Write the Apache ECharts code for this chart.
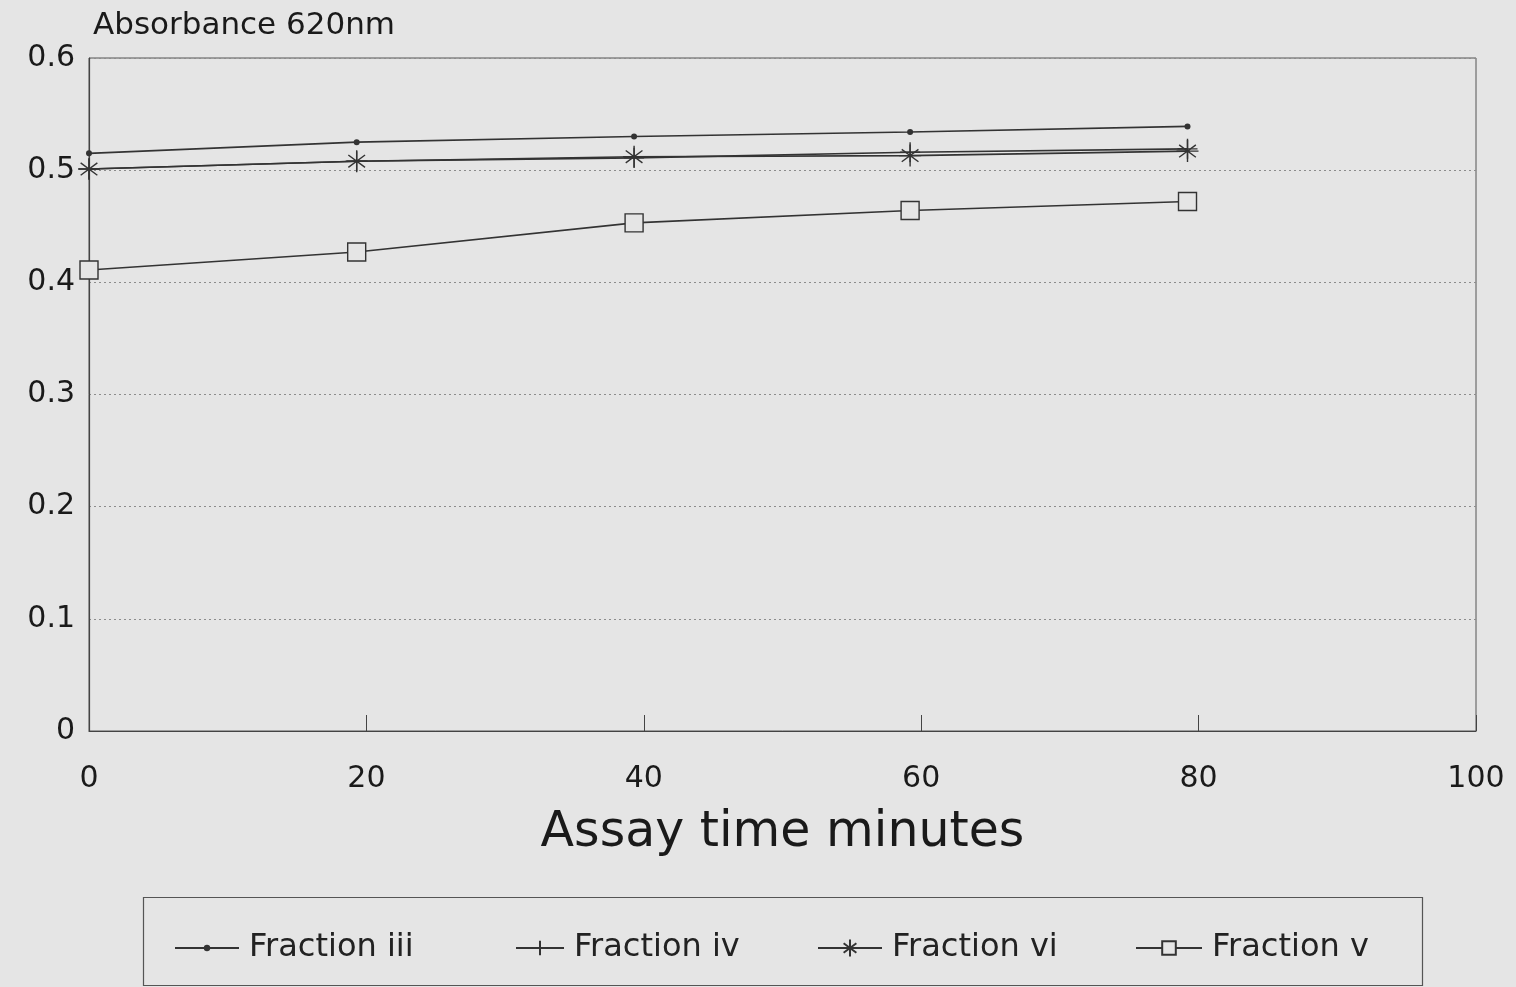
<!DOCTYPE html>
<html>
<head>
<meta charset="utf-8">
<script src="https://cdn.jsdelivr.net/npm/echarts@6/dist/echarts.min.js"></script>
<style>
html,body{margin:0;padding:0;background:#e5e5e5;}
#chart{width:1516px;height:987px;}
</style>
</head>
<body>
<div id="chart"></div>
<script>
// Assay time (minutes) at which each reading was taken
var times = [0, 19.3, 39.3, 59.2, 79.2];
var fractionIII = [0.515, 0.525, 0.530, 0.534, 0.539];
var fractionIV  = [0.501, 0.508, 0.511, 0.516, 0.519];
var fractionVI  = [0.501, 0.508, 0.512, 0.513, 0.517];
var fractionV   = [0.411, 0.427, 0.453, 0.464, 0.472];
var seriesNames = ['Fraction iii', 'Fraction iv', 'Fraction vi', 'Fraction v'];
var xTicks = [0, 20, 40, 60, 80, 100];
var yTicks = [0, 0.1, 0.2, 0.3, 0.4, 0.5, 0.6];

function pairs(vals){ return times.map(function(t,i){ return [t, vals[i]]; }); }

var ink = '#333333';
var bg = '#e5e5e5';
var plusPath = 'path://M5,0 L5,10 M0,5 L10,5';
var starPath = 'path://M5,0 L5,10 M1.2,2.2 L8.8,7.8 M8.8,2.2 L1.2,7.8 M0,5 L10,5';
var squarePath = 'path://M0,0 L10,0 L10,10 L0,10 Z';

var chart = echarts.init(document.getElementById('chart'));
var font = 'DejaVu Sans';

function mkSeries(name, vals, symbol, size, itemStyle){
  return {
    name: name, type: 'line', data: pairs(vals),
    symbol: symbol, symbolSize: size, showSymbol: true,
    lineStyle: {color: ink, width: 1.6},
    itemStyle: itemStyle,
    emphasis: {disabled: true},
    animation: false, z: 3
  };
}

function mkLegend(name, left, iconW, iconH){
  return {
    data: [name], left: left, top: 927, orient: 'horizontal',
    itemWidth: iconW, itemHeight: iconH, itemGap: 0,
    textStyle: {fontFamily: font, fontSize: 32, color: '#222', padding: [0,0,0,5]},
    selectedMode: false
  };
}

chart.setOption({
  backgroundColor: bg,
  animation: false,
  grid: {left: 89, right: 40, top: 58, bottom: 256, show: true, borderColor: '#555', borderWidth: 1, backgroundColor: 'transparent'},
  xAxis: {
    type: 'value', min: xTicks[0], max: xTicks[xTicks.length-1], interval: 20,
    name: 'Assay time minutes', nameLocation: 'middle', nameGap: 78,
    nameTextStyle: {fontFamily: font, fontSize: 49, color: '#1a1a1a'},
    axisLine: {show: true, lineStyle: {color: '#444', width: 1.2}},
    axisTick: {show: true, inside: true, length: 16, lineStyle: {color: '#444'}},
    axisLabel: {fontFamily: font, fontSize: 30, color: '#1a1a1a', margin: 33},
    splitLine: {show: false}
  },
  yAxis: {
    type: 'value', min: yTicks[0], max: yTicks[yTicks.length-1], interval: 0.1,
    name: 'Absorbance 620nm', nameLocation: 'end', nameGap: 32,
    nameTextStyle: {fontFamily: font, fontSize: 31, color: '#1a1a1a', align: 'left', verticalAlign: 'middle', padding: [0,0,0,4]},
    axisLine: {show: true, lineStyle: {color: '#444', width: 1.2}},
    axisTick: {show: false},
    axisLabel: {fontFamily: font, fontSize: 30, color: '#1a1a1a', margin: 14,
      formatter: function(v){ return v === 0 ? '0' : v.toFixed(1); }},
    splitLine: {show: true, lineStyle: {color: '#8c8c8c', type: [2,3], width: 1}}
  },
  legend: [
    mkLegend(seriesNames[0], 169, 64, 8),
    mkLegend(seriesNames[1], 510, 48, 18),
    mkLegend(seriesNames[2], 812, 64, 21),
    mkLegend(seriesNames[3], 1130, 66, 17)
  ],
  graphic: [{
    type: 'rect', left: 141, top: 895, shape: {x: 0, y: 0, width: 1279, height: 88},
    style: {fill: 'none', stroke: '#555', lineWidth: 1.2}, silent: true
  }],
  series: [
    mkSeries(seriesNames[0], fractionIII, 'circle', 6, {color: ink}),
    mkSeries(seriesNames[1], fractionIV, plusPath, 20, {color: ink, borderColor: ink, borderWidth: 1.4}),
    mkSeries(seriesNames[2], fractionVI, starPath, 22, {color: ink, borderColor: ink, borderWidth: 1.4}),
    mkSeries(seriesNames[3], fractionV, squarePath, 18, {color: bg, borderColor: ink, borderWidth: 1.4})
  ]
});
</script>
</body>
</html>
